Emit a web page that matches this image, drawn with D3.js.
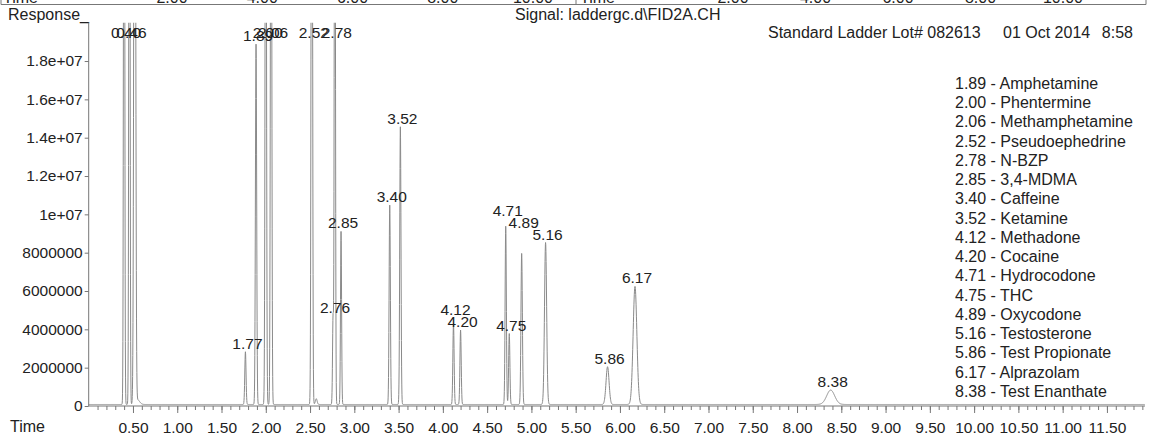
<!DOCTYPE html>
<html>
<head>
<meta charset="utf-8">
<script src="https://cdn.jsdelivr.net/npm/d3@7"></script>
<style>
  html, body { margin: 0; padding: 0; background: #fff; }
  svg { display: block; font-family: "Liberation Sans", Arial, sans-serif; }
</style>
</head>
<body>
<div id="chart"></div>
<script>
// ---------------- DATA ----------------
const peakTimes   = [0.40, 0.46, 0.52, 0.55, 1.77, 1.89, 2.00, 2.06, 2.52, 2.57, 2.76, 2.78, 2.85, 3.40, 3.52, 4.12, 4.20, 4.71, 4.75, 4.89, 5.16, 5.86, 6.17, 8.38];
const peakHeights = [5e7, 5e7, 5e7, 2.5e5, 2.75e6, 1.88e7, 4e7, 4e7, 5e7, 3e5, 4.59e6, 4e7, 9.03e6, 1.04e7, 1.449e7, 4.23e6, 3.88e6, 9.30e6, 3.70e6, 7.88e6, 8.45e6, 1.97e6, 6.16e6, 0.75e6];
const peakSigmas  = [0.006, 0.006, 0.009, 0.025, 0.007, 0.007, 0.007, 0.007, 0.007, 0.01, 0.006, 0.006, 0.006, 0.007, 0.007, 0.007, 0.007, 0.007, 0.007, 0.008, 0.012, 0.017, 0.021, 0.045];
const peakLabels  = ["0.40", "0.46", "", "", "1.77", "1.89", "2.00", "2.06", "2.52", "", "2.76", "2.78", "2.85", "3.40", "3.52", "4.12", "4.20", "4.71", "4.75", "4.89", "5.16", "5.86", "6.17", "8.38"];
const baselineResponse = 80000;

const legendLines = [
  "1.89 - Amphetamine", "2.00 - Phentermine", "2.06 - Methamphetamine", "2.52 - Pseudoephedrine",
  "2.78 - N-BZP", "2.85 - 3,4-MDMA", "3.40 - Caffeine", "3.52 - Ketamine", "4.12 - Methadone",
  "4.20 - Cocaine", "4.71 - Hydrocodone", "4.75 - THC", "4.89 - Oxycodone", "5.16 - Testosterone",
  "5.86 - Test Propionate", "6.17 - Alprazolam", "8.38 - Test Enanthate"
];

const xMajorTicks = d3.range(0.5, 11.51, 0.5);
const xMinorTicks = d3.range(0.1, 11.95, 0.1);
const yTicks = [0, 2000000, 4000000, 6000000, 8000000, 10000000, 12000000, 14000000, 16000000, 18000000];

const headerLeft = "Response_";
const headerSignal = "Signal: laddergc.d\\FID2A.CH";
const headerSample = "Standard Ladder Lot# 082613";
const headerDate = "01 Oct 2014";
const headerTime = "8:58";
const xAxisTitle = "Time";

// cut-off panel above (only its axis labels' bottoms are visible)
const prevPanelTicks = [2, 4, 6, 8, 10];

// ---------------- LAYOUT ----------------
const W = 1149, H = 433;
const svg = d3.select("#chart").append("svg").attr("width", W).attr("height", H);

const x = d3.scaleLinear().domain([0, 11.93]).range([88.7, 1145]);
const y = d3.scaleLinear().domain([0, 2.0e7]).range([406, 22.7]);

const txt = "#222";
const axisCol = "#777";
const fs = 16;      // header / legend
const fsL = 15.5;   // tick & peak labels

// ---- cut-off previous panel strip ----
const prevL = d3.scaleLinear().domain([2, 10]).range([172, 533]);
const prevR = d3.scaleLinear().domain([2, 10]).range([733, 1063]);
const strip = svg.append("g");
strip.append("text").attr("x", 3).attr("y", 3).attr("font-size", fs).attr("fill", txt).text(xAxisTitle);
strip.append("text").attr("x", 580).attr("y", 3).attr("font-size", fs).attr("fill", txt).text(xAxisTitle);
[prevL, prevR].forEach(s => {
  strip.selectAll(null).data(prevPanelTicks).enter().append("text")
    .attr("x", d => s(d)).attr("y", 3).attr("text-anchor", "middle")
    .attr("font-size", fs).attr("fill", txt).text(d => d.toFixed(2));
});
strip.append("line").attr("x1", 1).attr("x2", 1146).attr("y1", 4.5).attr("y2", 4.5).attr("stroke", axisCol);
[1, 576, 1146].forEach(px => strip.append("line").attr("x1", px).attr("x2", px).attr("y1", 0).attr("y2", 4.5).attr("stroke", axisCol));

// ---- header ----
svg.append("text").attr("x", 8).attr("y", 19.5).attr("font-size", fs).attr("fill", txt).text(headerLeft);
svg.append("text").attr("x", 515).attr("y", 19.5).attr("font-size", fs).attr("fill", txt).text(headerSignal);
svg.append("text").attr("x", 768).attr("y", 38).attr("font-size", fs).attr("fill", txt).text(headerSample);
svg.append("text").attr("x", 1003).attr("y", 38).attr("font-size", fs).attr("fill", txt).text(headerDate);
svg.append("text").attr("x", 1133).attr("y", 38).attr("text-anchor", "end").attr("font-size", fs).attr("fill", txt).text(headerTime);

// ---- clip ----
svg.append("defs").append("clipPath").attr("id", "plotclip")
  .append("rect").attr("x", x.range()[0]).attr("y", y.range()[1])
  .attr("width", x.range()[1] - x.range()[0]).attr("height", y.range()[0] - y.range()[1] + 2);

// ---- trace ----
const peaks = peakTimes.map((t, i) => ({ t, h: peakHeights[i], s: peakSigmas[i], label: peakLabels[i] }));
const samples = d3.range(0, 11.93, 0.002).map(t => {
  let v = baselineResponse;
  for (const p of peaks) {
    const z = (t - p.t) / p.s;
    if (Math.abs(z) < 8) v += p.h * Math.exp(-0.5 * z * z);
  }
  return [t, v];
});
const line = d3.line().x(d => x(d[0])).y(d => y(Math.min(d[1], 2.2e7)));
svg.append("path").datum(samples).attr("clip-path", "url(#plotclip)")
  .attr("d", line).attr("fill", "none").attr("stroke", "#8a8a8a").attr("stroke-width", 1);

// ---- axes ----
const yAxisG = svg.append("g").attr("transform", `translate(${x.range()[0]},0)`)
  .call(d3.axisLeft(y).tickValues(yTicks).tickSize(4).tickPadding(2)
    .tickFormat(d => d >= 1e7 ? (d / 1e7 === 1 ? "1e+07" : (d / 1e7).toFixed(1) + "e+07") : String(d)));
yAxisG.select(".domain").attr("stroke", axisCol).attr("d", `M0,${y.range()[0]}V${y.range()[1]}`);
yAxisG.selectAll(".tick line").attr("stroke", axisCol);
yAxisG.selectAll(".tick text").attr("font-size", fsL).attr("fill", txt).attr("font-family", "Liberation Sans, Arial, sans-serif");

const xAxisG = svg.append("g").attr("transform", `translate(0,${y.range()[0]})`)
  .call(d3.axisBottom(x).tickValues(xMajorTicks).tickSize(7).tickPadding(9).tickFormat(d3.format(".2f")));
xAxisG.select(".domain").attr("stroke", axisCol).attr("d", `M${x.range()[0]},0H${x.range()[1]}`);
xAxisG.selectAll(".tick line").attr("stroke", axisCol);
xAxisG.selectAll(".tick text").attr("font-size", fsL).attr("fill", txt).attr("font-family", "Liberation Sans, Arial, sans-serif");

const xMinorG = svg.append("g").attr("transform", `translate(0,${y.range()[0]})`)
  .call(d3.axisBottom(x).tickValues(xMinorTicks).tickSize(4).tickFormat(""));
xMinorG.select(".domain").remove();
xMinorG.selectAll(".tick line").attr("stroke", axisCol);

svg.append("text").attr("x", 10).attr("y", 431.5).attr("font-size", fs).attr("fill", txt).text(xAxisTitle);

// ---- peak labels ----
const topBaseline = 37.5;
const capH = 11;
const labelled = peaks.filter(p => p.label);
const placed = [];
// place right-to-left; on-scale labels avoid overlapping earlier on-scale labels
const labelG = svg.append("g");
labelled.slice().reverse().forEach(p => {
  const apex = y(Math.min(p.h + baselineResponse, 2.0e7));
  let by = apex - 3;
  const clamped = by < topBaseline;
  if (clamped) by = topBaseline;
  const cx = x(p.t) + 2;
  const t = labelG.append("text").attr("x", cx).attr("text-anchor", "middle")
    .attr("font-size", fsL).attr("fill", txt).text(p.label);
  const w = t.node().getComputedTextLength();
  if (!clamped) {
    let moved = true;
    while (moved) {
      moved = false;
      for (const b of placed) {
        const ox = Math.abs(cx - b.cx) < (w + b.w) / 2;
        const oy = by > b.by - capH && by - capH < b.by;
        if (ox && oy) { by = b.by - capH - 1; moved = true; }
      }
    }
    placed.push({ cx, by, w });
  }
  t.attr("y", by);
});

// ---- legend ----
svg.append("g").selectAll("text").data(legendLines).enter().append("text")
  .attr("x", 955).attr("y", (d, i) => 88.7 + i * 19.27)
  .attr("font-size", fs).attr("fill", txt).text(d => d);
</script>
</body>
</html>
